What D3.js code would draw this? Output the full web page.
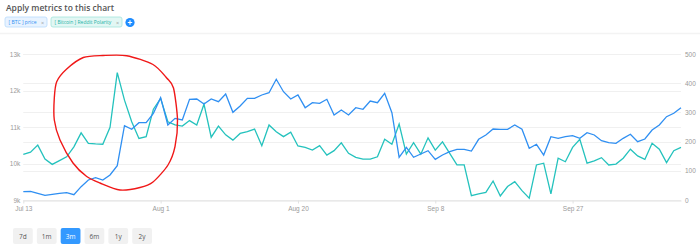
<!DOCTYPE html>
<html>
<head>
<meta charset="UTF-8">
<script src="https://d3js.org/d3.v7.min.js"></script>
<style>
  body { margin: 0; background: #fff; }
  svg { display: block; font-family: "Open Sans", Roboto, sans-serif; }
  .grid line { stroke: #f0f0f0; stroke-width: 1px; }
  .axis text { fill: #9a9a9a; font-size: 6.5px; }
  .axis path, .axis line { stroke: #e2e2e2; }
  .price { fill: none; stroke: #2f8ff2; stroke-width: 1.3px; }
  .polarity { fill: none; stroke: #24c2bd; stroke-width: 1.3px; }
  .btn text { font-size: 6.5px; fill: #555; text-anchor: middle; }
</style>
</head>
<body>
<svg id="chart" width="700" height="249"></svg>
<script>
// chart data, one value per day from Jul 13
const startDate = new Date(2020, 6, 13);
const price = [9227, 9238, 9183, 9128, 9155, 9183, 9200, 9146, 9365, 9548,
  9612, 9548, 9685, 9940, 11036, 10936, 11119, 11119, 11374, 11803,
  11055, 11237, 11192, 11758, 11767, 11630, 11767, 11693, 11904, 11403,
  11575, 11786, 11786, 11877, 11940, 12307, 11967, 11767, 11877, 11529,
  11666, 11649, 11759, 11329, 11466, 11329, 11529, 11485, 11712, 11666,
  11923, 11392, 10170, 10444, 10170, 10260, 10351, 10115, 10233, 10323,
  10389, 10389, 10342, 10663, 10781, 10945, 10937, 10937, 11055, 10940,
  10416, 10526, 10233, 10735, 10690, 10735, 10762, 10690, 10845, 10781,
  10625, 10570, 10553, 10690, 10800, 10597, 10671, 10918, 11055, 11283,
  11375, 11529];
const polarity = [156, 164, 188, 140, 122, 135, 148, 182, 230, 194,
  192, 191, 249, 436, 342, 268, 211, 217, 311, 348,
  268, 257, 253, 272, 257, 328, 215, 253, 223, 205,
  228, 234, 243, 186, 257, 234, 217, 232, 185, 180,
  171, 186, 154, 169, 196, 160, 146, 140, 140, 148,
  208, 191, 260, 157, 196, 157, 213, 171, 199, 160,
  120, 120, 15, 21, 26, 65, 14, 46, 63, 32,
  6, 120, 126, 21, 143, 131, 180, 208, 126, 134,
  145, 120, 123, 143, 174, 151, 139, 194, 174, 128,
  169, 180];
const dateTicks = ["2020-07-13", "2020-08-01", "2020-08-20", "2020-09-08", "2020-09-27"];
const priceTicks = [9000, 10000, 11000, 12000, 13000];
const polarityTicks = [0, 100, 200, 300, 400, 500];
const ranges = ["7d", "1m", "3m", "6m", "1y", "2y"];
const activeRange = "3m";
const chips = [
  {label: "[ BTC ] price", fill: "#e8f3ff", stroke: "#b9dafd", color: "#2f8ff2"},
  {label: "[ Bitcoin ] Reddit Polarity", fill: "#e2f7f4", stroke: "#a3e4dc", color: "#22b2a6"}
];

const dates = price.map((d, i) => d3.timeDay.offset(startDate, i));

const svg = d3.select("#chart");
const plotLeft = 23.3, plotRight = 681, plotTop = 54, plotBottom = 200;

const x = d3.scaleTime().domain(d3.extent(dates)).range([plotLeft, plotRight]);
const yL = d3.scaleLinear().domain([9000, 13000]).range([plotBottom, plotTop]);
const yR = d3.scaleLinear().domain([0, 500]).range([plotBottom, plotTop]);

// header
svg.append("text").attr("x", 6).attr("y", 11)
  .attr("font-size", "8.5px").attr("font-weight", 600).attr("fill", "#555")
  .text("Apply metrics to this chart");

const chipW = [42, 71];
let cx = 5;
chips.forEach((c, i) => {
  const w = chipW[i];
  const g = svg.append("g").attr("transform", `translate(${cx},17)`);
  g.append("rect").attr("width", w).attr("height", 10).attr("rx", 2)
    .attr("fill", c.fill).attr("stroke", c.stroke).attr("stroke-width", 0.8);
  const t = g.append("text").attr("x", 3.5).attr("y", 7.2)
    .attr("font-size", "6px").attr("fill", c.color).text(c.label);
  // shrink font so the label fits before the close mark
  const len = t.node().getComputedTextLength();
  const fs = Math.min(6, 6 * (w - 14) / len);
  t.attr("font-size", fs + "px");
  g.append("text").attr("x", w - 6).attr("y", 7.5)
    .attr("font-size", "5.5px").attr("fill", "#999").text("×");
  cx += w + 4;
});
const plusX = cx + 4;
svg.append("circle").attr("cx", plusX).attr("cy", 22.5).attr("r", 4.6).attr("fill", "#1e8cff");
svg.append("path").attr("d", `M${plusX - 2.2},22.5H${plusX + 2.2}M${plusX},20.3V24.7`)
  .attr("stroke", "#fff").attr("stroke-width", 1.1);

svg.append("line").attr("x1", 0).attr("x2", 700).attr("y1", 33.5).attr("y2", 33.5)
  .attr("stroke", "#f3f3f3").attr("stroke-width", 1.5);

// grid
const grid = svg.append("g").attr("class", "grid");
grid.selectAll(".gl").data(priceTicks).join("line")
  .attr("x1", plotLeft).attr("x2", plotRight)
  .attr("y1", d => Math.round(yL(d)) + 0.5).attr("y2", d => Math.round(yL(d)) + 0.5);
grid.selectAll(".gr").data(polarityTicks).join("line")
  .attr("x1", plotLeft).attr("x2", plotRight)
  .attr("y1", d => Math.round(yR(d)) + 0.5).attr("y2", d => Math.round(yR(d)) + 0.5);

// axes
svg.append("g").attr("class", "axis")
  .attr("transform", `translate(0,${plotBottom + 0.5})`)
  .call(d3.axisBottom(x).tickValues(dateTicks.map(d => d3.timeParse("%Y-%m-%d")(d)))
    .tickFormat(d3.timeFormat("%b %-d")).tickSize(3).tickSizeOuter(0).tickPadding(3));

svg.append("g").attr("class", "axis")
  .attr("transform", `translate(${plotLeft - 2},0)`)
  .call(d3.axisLeft(yL).tickValues(priceTicks).tickFormat(d => d / 1000 + "k").tickSize(0).tickPadding(1))
  .call(g => g.select(".domain").remove());

svg.append("g").attr("class", "axis")
  .attr("transform", `translate(${plotRight + 3},0)`)
  .call(d3.axisRight(yR).tickValues(polarityTicks).tickSize(0).tickPadding(1))
  .call(g => g.select(".domain").remove());

// lines
svg.append("path").datum(polarity).attr("class", "polarity")
  .attr("d", d3.line().x((d, i) => x(dates[i])).y(d => yR(d)));
svg.append("path").datum(price).attr("class", "price")
  .attr("d", d3.line().x((d, i) => x(dates[i])).y(d => yL(d)));

// hand drawn red ring
const ring = [[56.7, 81.7], [66.7, 69], [83.3, 57.5], [103, 55.5], [126.7, 55.7],
  [153, 64.5], [166.7, 78], [173.5, 88], [177.5, 120], [175, 146.7], [168, 165],
  [153, 182], [140, 187.5], [120, 190], [100, 183], [86.7, 176.5], [73, 163],
  [60, 140], [54.3, 120], [54.3, 98]];
svg.append("path")
  .attr("d", d3.line().curve(d3.curveCardinalClosed.tension(0.2))(ring))
  .attr("fill", "none").attr("stroke", "#f01818").attr("stroke-width", 1.4);

// range buttons
const bx = d3.scaleBand().domain(ranges).range([13, 152]).paddingInner(0.17);
const btn = svg.selectAll(".btn").data(ranges).join("g").attr("class", "btn")
  .attr("transform", d => `translate(${bx(d)},228)`);
btn.append("rect").attr("width", bx.bandwidth()).attr("height", 16).attr("rx", 2)
  .attr("fill", d => d === activeRange ? "#3399ff" : "#f1f1f1");
btn.append("text").attr("x", bx.bandwidth() / 2).attr("y", 10.5)
  .style("fill", d => d === activeRange ? "#fff" : "#555").text(d => d);
</script>
</body>
</html>
